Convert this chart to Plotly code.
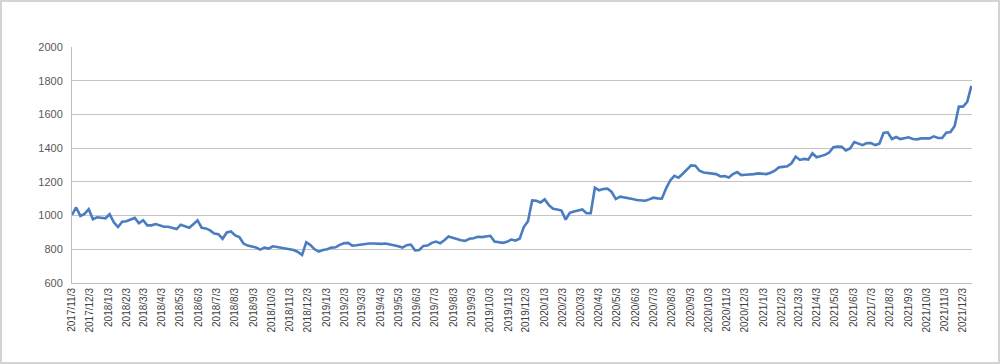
import plotly.graph_objects as go
import pandas as pd

start_date = "2017-11-03"

values = [
    1004, 1048, 998, 1010, 1038, 978, 990, 988, 984, 1008,
    960, 932, 964, 966, 978, 986, 954, 972, 942, 942,
    950, 942, 934, 934, 926, 920, 946, 936, 928, 948,
    972, 928, 924, 912, 894, 890, 862, 900, 906, 882,
    872, 834, 822, 816, 810, 798,
    810, 804, 818, 814, 810, 808, 802, 796, 784, 766,
    842, 825, 800, 786, 796, 800, 810, 812, 826, 836,
    838, 822, 824, 828, 834, 834, 834, 832, 832, 834,
    830, 824, 818, 810, 824, 828, 794, 796, 820, 822,
    838, 846, 836, 854, 876, 868, 860, 854, 850, 862,
    866, 874, 872, 876, 880, 846, 840, 838, 844, 858,
    852, 862, 932, 966, 1090, 1088, 1078, 1096, 1062, 1040,
    1036, 1030, 976, 1016, 1024, 1030, 1036, 1014, 1014, 1166,
    1150, 1158, 1160,
    1140, 1098, 1112, 1108, 1106, 1098, 1092, 1090, 1088, 1096,
    1106, 1102, 1100, 1160, 1208, 1236, 1224, 1248, 1274, 1298,
    1296, 1266, 1256, 1252, 1250, 1246, 1232, 1234, 1226, 1246,
    1258, 1240, 1242, 1242, 1246, 1250, 1250, 1246, 1254, 1266,
    1286, 1290, 1292, 1310,
    1350, 1330, 1336, 1332, 1370, 1346, 1354, 1360, 1374, 1406,
    1410, 1408, 1386, 1398, 1436, 1426, 1418, 1430, 1430, 1418,
    1426, 1490, 1494, 1454, 1466, 1454, 1460, 1464, 1454, 1452,
    1458, 1456, 1458, 1470, 1460, 1460, 1492, 1496, 1532, 1646,
    1646, 1674, 1770,
]

tick_labels = [
    "2017/11/3", "2017/12/3",
    "2018/1/3", "2018/2/3", "2018/3/3", "2018/4/3", "2018/5/3", "2018/6/3",
    "2018/7/3", "2018/8/3", "2018/9/3", "2018/10/3", "2018/11/3", "2018/12/3",
    "2019/1/3", "2019/2/3", "2019/3/3", "2019/4/3", "2019/5/3", "2019/6/3",
    "2019/7/3", "2019/8/3", "2019/9/3", "2019/10/3", "2019/11/3", "2019/12/3",
    "2020/1/3", "2020/2/3", "2020/3/3", "2020/4/3", "2020/5/3", "2020/6/3",
    "2020/7/3", "2020/8/3", "2020/9/3", "2020/10/3", "2020/11/3", "2020/12/3",
    "2021/1/3", "2021/2/3", "2021/3/3", "2021/4/3", "2021/5/3", "2021/6/3",
    "2021/7/3", "2021/8/3", "2021/9/3", "2021/10/3", "2021/11/3", "2021/12/3",
]

y_ticks = [600, 800, 1000, 1200, 1400, 1600, 1800, 2000]

dates = pd.date_range(start_date, periods=len(values), freq="7D")
tick_dates = [pd.to_datetime(t, format="%Y/%m/%d") for t in tick_labels]

W, H = 1000, 364
ml, mr, mt, mb = 72, 28, 47, 81
pw, ph = W - ml - mr, H - mt - mb

fig = go.Figure()
fig.add_trace(go.Scatter(
    x=dates, y=values, mode="lines",
    line=dict(color="#4a7cc2", width=2.6),
    showlegend=False,
))

font_family = "Liberation Sans, Arial, sans-serif"

fig.update_layout(
    width=W, height=H,
    margin=dict(l=ml, r=mr, t=mt, b=mb, pad=0),
    paper_bgcolor="white", plot_bgcolor="white",
    font=dict(family=font_family, color="#595959"),
    xaxis=dict(
        type="date",
        range=[dates[0], dates[-1] + pd.Timedelta(days=1)],
        tickmode="array", tickvals=tick_dates, ticktext=tick_labels,
        tickangle=-90, tickfont=dict(size=10, color="#404040"),
        showgrid=False, showline=True, linecolor="#bfbfbf", linewidth=1,
        ticks="", zeroline=False,
    ),
    yaxis=dict(
        range=[600, 2000], tickmode="array", tickvals=y_ticks,
        tickfont=dict(size=11, color="#595959"),
        showgrid=True, gridcolor="#c4c4c4", gridwidth=1,
        showline=True, linecolor="#bfbfbf", linewidth=1,
        ticks="", zeroline=False, ticklabelstandoff=6,
    ),
    shapes=[dict(
        type="rect", xref="paper", yref="paper",
        x0=-(ml - 1) / pw, x1=1 + (mr - 1) / pw,
        y0=-(mb - 1) / ph, y1=1 + (mt - 1) / ph,
        line=dict(color="#d4d4d4", width=2), fillcolor="rgba(0,0,0,0)",
        layer="below",
    )],
)

fig.write_html("out.html")
